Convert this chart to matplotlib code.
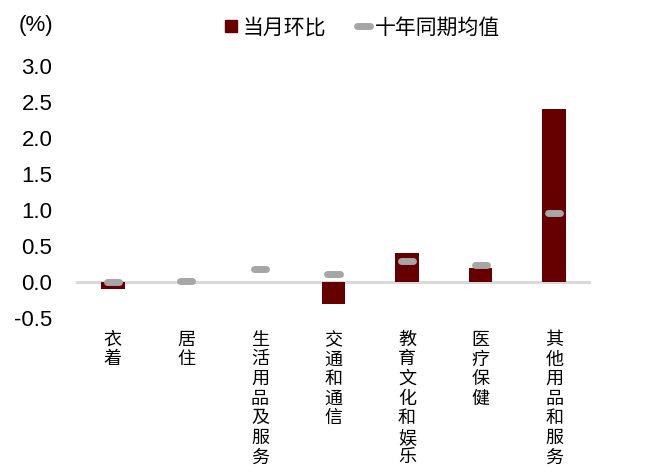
import numpy as np
import matplotlib
matplotlib.use('Agg')
import matplotlib.pyplot as plt
from matplotlib.lines import Line2D

plt.rcParams['font.family'] = ['Liberation Sans', 'Noto Sans CJK SC']
plt.rcParams['axes.unicode_minus'] = False

# Data
categories = ['衣着', '居住', '生活用品及服务', '交通和通信', '教育文化和娱乐', '医疗保健', '其他用品和服务']
mom_values = [-0.10, 0.0, 0.0, -0.30, 0.40, 0.20, 2.40]
ten_year_avg = [0.00, 0.02, 0.18, 0.11, 0.29, 0.23, 0.96]
y_ticks = [-0.5, 0.0, 0.5, 1.0, 1.5, 2.0, 2.5, 3.0]

bar_color = '#660000'
avg_color = '#A6A6A6'

fig = plt.figure(figsize=(6.5, 4.72), dpi=100)
ax = fig.add_axes([0.1169, 0.3263, 0.7923, 0.5339])

x = np.arange(len(categories))

# zero line
ax.axhline(0, color='#D9D9D9', lw=2.2, zorder=1)

# monthly change bars
ax.bar(x, mom_values, width=0.32, color=bar_color, zorder=2)

# ten-year average as short rounded dashes
ax.hlines(ten_year_avg, x - 0.082, x + 0.082, colors=avg_color, lw=5,
          capstyle='round', zorder=3)

ax.set_xlim(-0.5, 6.5)
ax.set_ylim(-0.5, 3.0)
ax.set_yticks(y_ticks)
ax.set_yticklabels([f'{v:.1f}' for v in y_ticks], fontsize=16)
ax.set_xticks(x)
ax.set_xticklabels(['\n'.join(c) for c in categories], fontsize=13,
                   linespacing=1.2, va='top')
ax.tick_params(axis='y', length=0, pad=17)
ax.tick_params(axis='x', length=0, pad=10)

for s in ax.spines.values():
    s.set_visible(False)

# unit label
fig.text(53 / 650, 1 - 26 / 472, '(%)', fontsize=16, ha='right', va='center')

# legend
handles = [
    Line2D([], [], marker='s', color=bar_color, ls='', markersize=8),
    Line2D([], [], color=avg_color, lw=5, solid_capstyle='round'),
]
fig.legend(handles, ['当月环比', '十年同期均值'], loc='center',
           bbox_to_anchor=(0.558, 1 - 27.5 / 472), ncol=2, frameon=False,
           fontsize=15, handlelength=0.58, handletextpad=0.25,
           columnspacing=1.5, borderpad=0, borderaxespad=0)

fig.savefig('out.png', dpi=100)
